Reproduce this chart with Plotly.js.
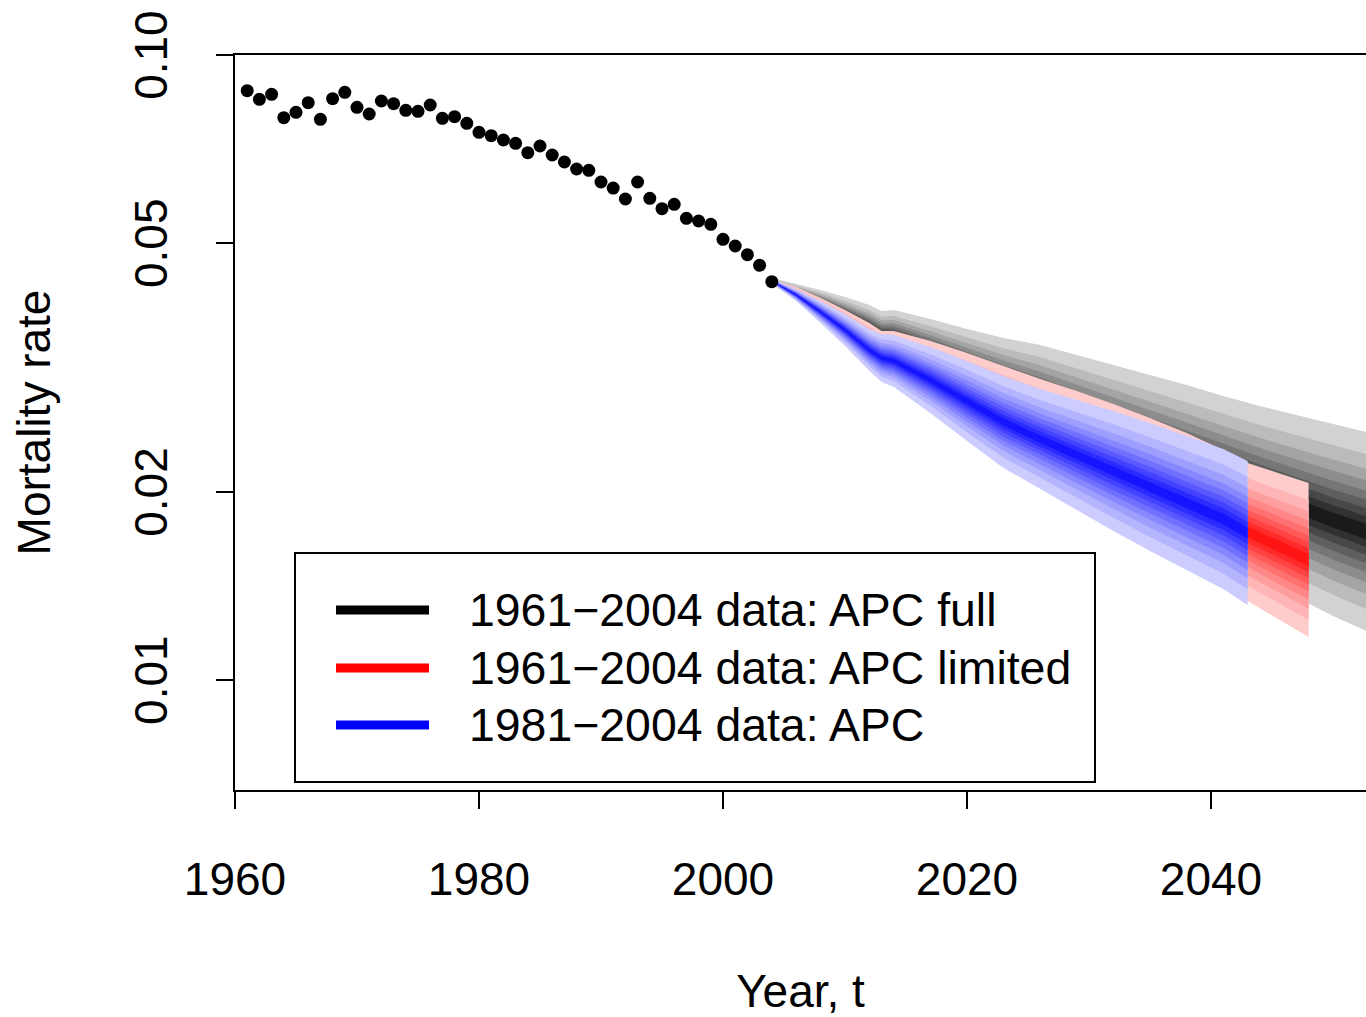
<!DOCTYPE html>
<html>
<head>
<meta charset="utf-8">
<script src="https://cdn.plot.ly/plotly-3.0.1.min.js"></script>
<style>
  html, body { margin: 0; padding: 0; background: #ffffff; }
  #chart { width: 1366px; height: 1017px; }
</style>
</head>
<body>
<div id="chart"></div>
<script>
// ---------------- Observed mortality rates 1961-2004 ----------------
const obsYears = [1961,1962,1963,1964,1965,1966,1967,1968,1969,1970,
                  1971,1972,1973,1974,1975,1976,1977,1978,1979,1980,
                  1981,1982,1983,1984,1985,1986,1987,1988,1989,1990,
                  1991,1992,1993,1994,1995,1996,1997,1998,1999,2000,
                  2001,2002,2003,2004];
const obsRates = [0.08768,0.08494,0.08652,0.07937,0.08097,0.08388,0.07891,0.08513,0.08716,0.08247,
                  0.08046,0.08441,0.08358,0.08157,0.08127,0.08318,0.07920,0.07967,0.07775,0.07522,
                  0.07428,0.07311,0.07223,0.06977,0.07152,0.06918,0.06742,0.06571,0.06539,0.06263,
                  0.06126,0.05883,0.06263,0.05898,0.05677,0.05769,0.05480,0.05425,0.05360,0.05071,
                  0.04948,0.04792,0.04608,0.04338];

// ---------------- Fan 1: 1961-2004 data, APC full (black) ----------------
const fullYears = [2004,2006,2008,2010,2012,2013,2014,2017,2020,2023,2026,2029,2032,2035,2038,2041,2044,2047,2050,2054];
const fullMed   = [0.04349,0.04176,0.04011,0.03837,0.03658,0.03551,0.03538,0.03348,0.03157,0.02976,
                   0.02806,0.02645,0.02494,0.02359,0.02233,0.02113,0.01999,0.01898,0.01803,0.01694];
const fullLo    = [0.04301,0.04055,0.03823,0.03591,0.03361,0.03239,0.03203,0.02965,0.02735,0.02512,
                   0.02291,0.02113,0.01949,0.01809,0.01682,0.01568,0.01456,0.01357,0.01266,0.01168];
const fullHi    = [0.04397,0.04301,0.04208,0.04100,0.03982,0.03894,0.03908,0.03781,0.03645,0.03526,
                   0.03436,0.03312,0.03192,0.03076,0.02966,0.02848,0.02744,0.02654,0.02568,0.02458];

// ---------------- Fan 2: 1961-2004 data, APC limited (red) ----------------
const limYears = [2004,2006,2008,2010,2012,2013,2014,2017,2020,2023,2026,2029,2032,2035,2038,2041,2043,2045,2048];
const limMed   = [0.04349,0.04161,0.03937,0.03712,0.03474,0.03348,0.03324,0.03133,0.02932,0.02744,
                  0.02568,0.02412,0.02257,0.02113,0.01970,0.01830,0.01725,0.01657,0.01556];
const limLo    = [0.04317,0.04070,0.03795,0.03525,0.03239,0.03099,0.03054,0.02816,0.02577,0.02368,
                  0.02176,0.02006,0.01843,0.01700,0.01562,0.01435,0.01338,0.01271,0.01172];
const limHi    = [0.04381,0.04254,0.04085,0.03909,0.03726,0.03617,0.03618,0.03486,0.03336,0.03180,
                  0.03031,0.02900,0.02764,0.02626,0.02485,0.02334,0.02224,0.02160,0.02066];

// ---------------- Fan 3: 1981-2004 data, APC (blue) ----------------
const recYears = [2004,2006,2008,2010,2012,2013,2014,2017,2020,2023,2026,2029,2032,2035,2038,2041,2043];
const recMed   = [0.04349,0.04131,0.03880,0.03631,0.03373,0.03275,0.03239,0.03020,0.02795,0.02587,
                  0.02430,0.02291,0.02160,0.02036,0.01919,0.01810,0.01719];
const recLo    = [0.04317,0.04041,0.03726,0.03423,0.03122,0.02998,0.02943,0.02674,0.02412,0.02184,
                  0.02021,0.01871,0.01732,0.01608,0.01499,0.01399,0.01318];
const recHi    = [0.04381,0.04223,0.04040,0.03852,0.03644,0.03578,0.03565,0.03410,0.03239,0.03065,
                  0.02921,0.02806,0.02694,0.02577,0.02456,0.02343,0.02241];

// Relative (log-scale) position of each shaded band edge between median (0) and outer 5%/95% bound (1)
const bandFrac = [1.000, 0.779, 0.630, 0.512, 0.410, 0.319, 0.234, 0.154, 0.077];

// Tick labels / text
const xTicks = [1960, 1980, 2000, 2020, 2040];
const yTicks = [0.01, 0.02, 0.05, 0.10];
const yTickText = ['0.01', '0.02', '0.05', '0.10'];
const legendLabels = ['1961\u22122004 data: APC full', '1961\u22122004 data: APC limited', '1981\u22122004 data: APC'];

// ---------------- Styles ----------------
const greyShades = ['#d2d2d2','#bbbbbb','#a4a4a4','#8d8d8d','#767676','#5f5f5f','#484848','#313131','#1a1a1a'];
const redShades  = ['#ffcccc','#ffb5b5','#ff9e9e','#ff8787','#ff7070','#ff5959','#ff4242','#ff2b2b','#ff1414'];
const blueShades = ['#ccccff','#b5b5ff','#9e9eff','#8787ff','#7070ff','#5959ff','#4242ff','#2b2bff','#1414ff'];
const legendColors = ['#000000', '#ff0000', '#0000ff'];
const FONT = 'Liberation Sans, Arial, Helvetica, sans-serif';

function fanTraces(yrs, med, lo, hi, shades) {
  const out = [];
  bandFrac.forEach((f, k) => {
    const up = yrs.map((_, i) => med[i] * Math.pow(hi[i] / med[i], f));
    const dn = yrs.map((_, i) => med[i] * Math.pow(lo[i] / med[i], f));
    out.push({
      type: 'scatter', mode: 'lines',
      x: yrs.concat(yrs.slice().reverse()),
      y: up.concat(dn.slice().reverse()),
      fill: 'toself', fillcolor: shades[k],
      line: { width: 0, color: shades[k] },
      hoverinfo: 'skip', showlegend: false
    });
  });
  return out;
}

const traces = []
  .concat(fanTraces(fullYears, fullMed, fullLo, fullHi, greyShades))
  .concat(fanTraces(limYears, limMed, limLo, limHi, redShades))
  .concat(fanTraces(recYears, recMed, recLo, recHi, blueShades));

traces.push({
  type: 'scatter', mode: 'markers',
  x: obsYears, y: obsRates,
  marker: { color: '#000000', size: 13 },
  showlegend: false, hoverinfo: 'x+y'
});

// ---------------- Legend (drawn box) ----------------
const PL = 235, PR = 1366, PT = 55, PB = 790;
const px = v => (v - PL) / (PR - PL);
const py = v => (PB - v) / (PB - PT);

const shapes = [{
  type: 'rect', xref: 'paper', yref: 'paper',
  x0: px(295), x1: px(1095), y0: py(782), y1: py(553),
  line: { color: '#000000', width: 2 }, fillcolor: '#ffffff'
}];
const annotations = [];
const legendRows = [610, 668, 725];
legendLabels.forEach((lab, i) => {
  shapes.push({
    type: 'line', xref: 'paper', yref: 'paper',
    x0: px(336), x1: px(429), y0: py(legendRows[i]), y1: py(legendRows[i]),
    line: { color: legendColors[i], width: 9 }
  });
  annotations.push({
    xref: 'paper', yref: 'paper', x: px(467), y: py(legendRows[i]),
    xanchor: 'left', yanchor: 'middle', showarrow: false,
    text: lab, font: { family: FONT, size: 46.4, color: '#000000' }
  });
});

const layout = {
  width: 1366, height: 1017,
  margin: { l: PL, r: 1366 - PR, t: PT, b: 1017 - PB, pad: 0 },
  paper_bgcolor: '#ffffff', plot_bgcolor: '#ffffff',
  font: { family: FONT, size: 46, color: '#000000' },
  showlegend: false,
  xaxis: {
    range: [1960, 1960 + (PR - PL) / 12.2],
    tickvals: xTicks, ticktext: xTicks.map(String),
    ticks: 'outside', ticklen: 17, tickwidth: 2, tickcolor: '#000000',
    showline: true, linewidth: 2, linecolor: '#000000', mirror: true,
    showgrid: false, zeroline: false,
    tickfont: { family: FONT, size: 46, color: '#000000' },
    ticklabelstandoff: 31,
    title: { text: 'Year, t', font: { family: FONT, size: 46, color: '#000000' }, standoff: 72 }
  },
  yaxis: {
    type: 'log',
    range: [Math.log10(0.00667), -1],
    tickvals: yTicks, ticktext: yTickText, tickangle: -90,
    ticks: 'outside', ticklen: 17, tickwidth: 2, tickcolor: '#000000',
    showline: true, linewidth: 2, linecolor: '#000000', mirror: false,
    showgrid: false, zeroline: false,
    tickfont: { family: FONT, size: 46, color: '#000000' },
    ticklabelstandoff: 31,
    ticklabelshift: 7,
    ticklabeloverflow: 'allow',
    title: { text: 'Mortality rate', font: { family: FONT, size: 46, color: '#000000' }, standoff: 59 }
  },
  shapes: shapes,
  annotations: annotations
};

Plotly.newPlot('chart', traces, layout, { displayModeBar: false, responsive: false });
</script>
</body>
</html>
